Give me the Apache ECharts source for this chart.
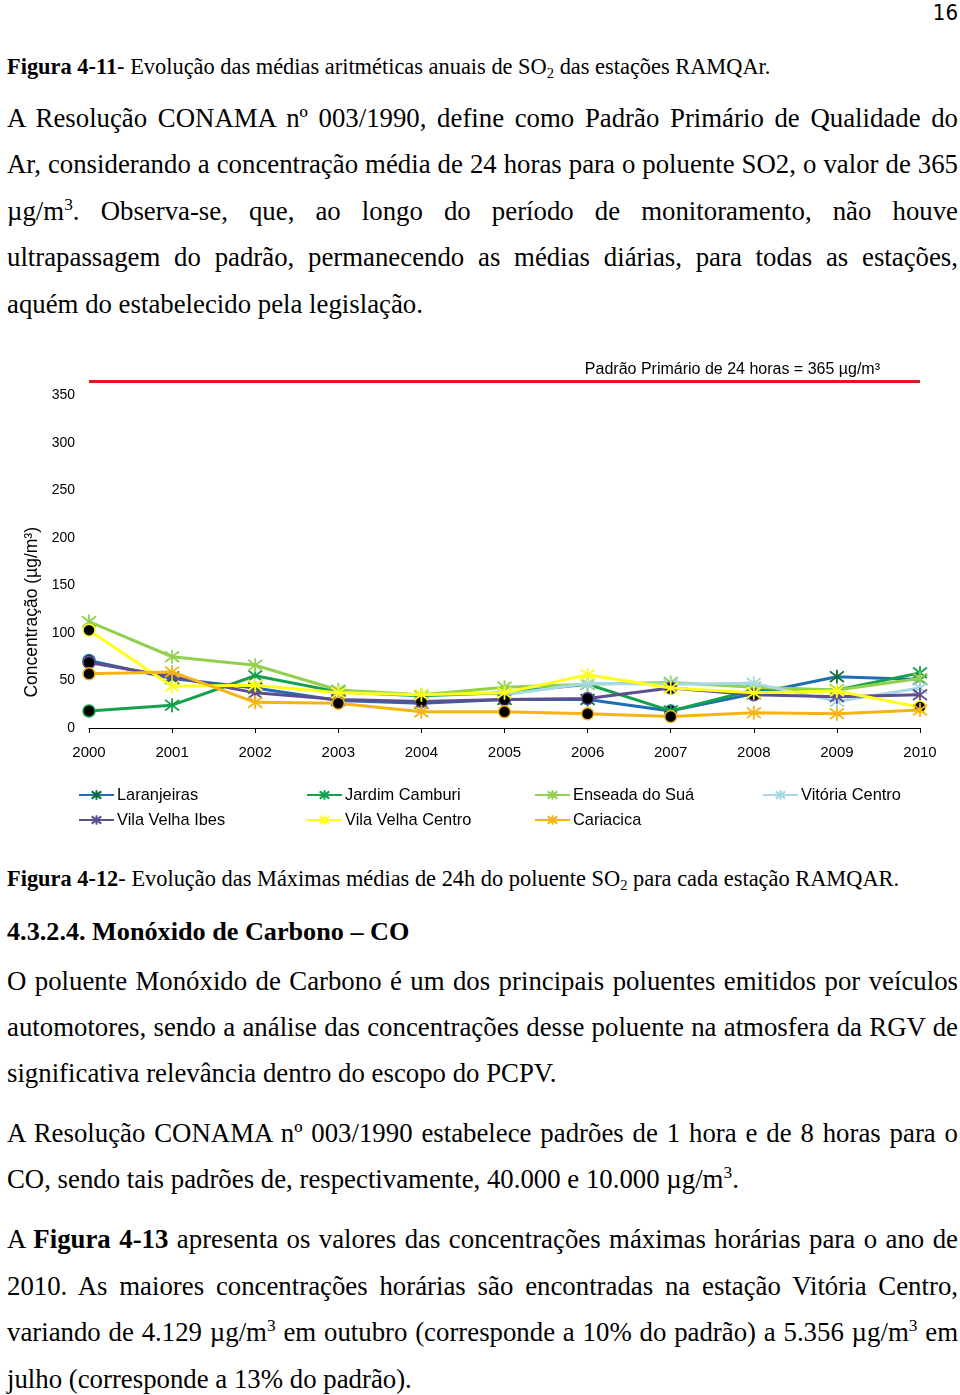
<!DOCTYPE html>
<html><head><meta charset="utf-8">
<script src="https://cdn.jsdelivr.net/npm/echarts@6/dist/echarts.min.js"></script>
<style>
html,body{margin:0;padding:0;background:#fff;}
#page{position:relative;width:960px;height:1395px;overflow:hidden;font-family:"Liberation Serif","Times New Roman",serif;color:#000;}
.ln{position:absolute;left:7px;width:951px;font-size:26.8px;line-height:26px;white-space:nowrap;}
.j{text-align:justify;text-align-last:justify;white-space:normal;}
.cap{font-size:22.4px;line-height:22px;}
.hd{font-size:26.2px;}
#pn{position:absolute;right:2px;top:0px;font-family:"Liberation Sans Narrow","DejaVu Sans Condensed","Liberation Sans",sans-serif;font-size:22px;}
#chart{position:absolute;left:0;top:340px;width:960px;height:500px;}
sub{font-size:0.65em;vertical-align:-0.25em;line-height:0;}
sup{font-size:0.65em;vertical-align:0.55em;line-height:0;}
</style></head>
<body><div id="page">
<div id="pn">16</div>
<div class="ln cap" style="top:56px"><b>Figura 4-11</b>- Evolução das médias aritméticas anuais de SO<sub>2</sub> das estações RAMQAr.</div>
<div class="ln j" style="top:105px">A Resolução CONAMA nº 003/1990, define como Padrão Primário de Qualidade do</div>
<div class="ln j" style="top:151px">Ar, considerando a concentração média de 24 horas para o poluente SO2, o valor de 365</div>
<div class="ln j" style="top:198px">µg/m<sup>3</sup>. Observa-se, que, ao longo do período de monitoramento, não houve</div>
<div class="ln j" style="top:244px">ultrapassagem do padrão, permanecendo as médias diárias, para todas as estações,</div>
<div class="ln" style="top:291px">aquém do estabelecido pela legislação.</div>
<div id="chart"></div>
<div class="ln cap" style="top:868px"><b>Figura 4-12</b>- Evolução das Máximas médias de 24h do poluente SO<sub>2</sub> para cada estação RAMQAR.</div>
<div class="ln hd" style="top:919px"><b>4.3.2.4. Monóxido de Carbono – CO</b></div>
<div class="ln j" style="top:968px">O poluente Monóxido de Carbono é um dos principais poluentes emitidos por veículos</div>
<div class="ln j" style="top:1014px">automotores, sendo a análise das concentrações desse poluente na atmosfera da RGV de</div>
<div class="ln" style="top:1060px">significativa relevância dentro do escopo do PCPV.</div>
<div class="ln j" style="top:1120px">A Resolução CONAMA nº 003/1990 estabelece padrões de 1 hora e de 8 horas para o</div>
<div class="ln" style="top:1166px">CO, sendo tais padrões de, respectivamente, 40.000 e 10.000 µg/m<sup>3</sup>.</div>
<div class="ln j" style="top:1226px">A <b>Figura 4-13</b> apresenta os valores das concentrações máximas horárias para o ano de</div>
<div class="ln j" style="top:1273px">2010. As maiores concentrações horárias são encontradas na estação Vitória Centro,</div>
<div class="ln j" style="top:1319px">variando de 4.129 µg/m<sup>3</sup> em outubro (corresponde a 10% do padrão) a 5.356 µg/m<sup>3</sup> em</div>
<div class="ln" style="top:1366px">julho (corresponde a 13% do padrão).</div>
</div>
<script>
const years = ['2000','2001','2002','2003','2004','2005','2006','2007','2008','2009','2010'];
const seriesNames = ['Laranjeiras','Jardim Camburi','Enseada do Suá','Vitória Centro','Vila Velha Ibes','Vila Velha Centro','Cariacica'];
const laranjeiras    = [71, 52, 42, 29, 26, 30, 30, 18, 36, 54, 51];
const jardimCamburi  = [18, 24, 55, 38, 34, 37, 46, 18, 40, 40, 58];
const enseadaDoSua   = [112, 75, 66, 40, 35, 43, 46, 48, 43, 40, 52];
const vitoriaCentro  = [null, null, null, null, null, 35, 47, 46, 47, 28, 42];
const vilaVelhaIbes  = [69, 54, 37, 30, 28, 30, 31, 42, 35, 33, 35];
const vilaVelhaCentro= [103, 44, 45, 37, 35, 37, 56, 42, 37, 39, 22];
const cariacica      = [57, 59, 27, 26, 17, 17, 15, 12, 16, 15, 19];
const padraoPrimario = 365;
const padraoLabel = 'Padrão Primário de 24 horas = 365 µg/m³';
const yTicks = [0, 50, 100, 150, 200, 250, 300, 350];
// year indices whose points are drawn as round black markers in the original
const roundMarkers = {
  'Laranjeiras': [0, 7],
  'Jardim Camburi': [0],
  'Vila Velha Ibes': [0, 4, 5, 6, 7, 8],
  'Vila Velha Centro': [0, 10],
  'Cariacica': [0, 3, 5, 6, 7]
};

const values = [laranjeiras, jardimCamburi, enseadaDoSua, vitoriaCentro, vilaVelhaIbes, vilaVelhaCentro, cariacica];
const lineColors = ['#1f6db4', '#14a04c', '#92d050', '#a6d8e6', '#5d4f8e', '#ffff1a', '#f5b414'];
const markColors = ['#0f6b35', '#14a04c', '#92d050', '#a6d8e6', '#5d4f8e', '#ffff1a', '#f5b414'];
const star = 'path://M5,0L5,10M1.2,1.2L8.8,8.8M1.2,8.8L8.8,1.2';
const FONT = 'Liberation Sans, Arial, sans-serif';

const chart = echarts.init(document.getElementById('chart'), null, {renderer:'canvas'});
const series = seriesNames.map((name, i) => {
  const dots = roundMarkers[name] || [];
  return {
    name: name,
    type: 'line',
    data: values[i].map((v, k) => {
      if (v === null) return '-';
      if (dots.indexOf(k) >= 0) {
        return {value: v, symbol: 'circle', symbolSize: 12,
          itemStyle: {color: '#000', borderColor: lineColors[i], borderWidth: 1.5}};
      }
      return v;
    }),
    symbol: star,
    symbolSize: 14,
    showAllSymbol: true,
    connectNulls: false,
    lineStyle: {color: lineColors[i], width: 3},
    itemStyle: {color: lineColors[i], borderColor: markColors[i], borderWidth: 1.8},
    emphasis: {disabled: true},
    animation: false,
    z: 2 + i,
    markLine: i === 0 ? {
      silent: true,
      symbol: ['none','none'],
      animation: false,
      lineStyle: {color: '#e3161d', width: 3, type: 'solid'},
      label: {show: true, position: 'insideEndTop', formatter: padraoLabel,
        color: '#000', fontFamily: FONT, fontSize: 16, distance: [40, 4]},
      data: [{yAxis: padraoPrimario}]
    } : undefined
  };
});

const legends = seriesNames.map((name, i) => ({
  data: [name],
  left: 73 + (i % 4) * 228,
  top: 442 + Math.floor(i / 4) * 25,
  itemWidth: 35,
  itemHeight: 12,
  itemGap: 5,
  selectedMode: false,
  textStyle: {color: '#000', fontFamily: FONT, fontSize: 16.4, padding: [0,0,0,-2]}
}));

chart.setOption({
  backgroundColor: '#fff',
  animation: false,
  grid: {left: 89, right: 40, top: 27, height: 361, containLabel: false},
  legend: legends,
  xAxis: {
    type: 'category', data: years, boundaryGap: false,
    axisLine: {show: true, lineStyle: {color: '#000', width: 1}},
    axisTick: {show: true, length: 5, lineStyle: {color: '#000'}},
    axisLabel: {color: '#000', fontFamily: FONT, fontSize: 15, margin: 17},
    splitLine: {show: false}
  },
  yAxis: {
    type: 'value', min: 0, max: 380, interval: 50,
    axisLine: {show: false}, axisTick: {show: false}, splitLine: {show: false},
    axisLabel: {color: '#000', fontFamily: FONT, fontSize: 14, margin: 14,
      showMaxLabel: false,
      formatter: v => (yTicks.indexOf(v) >= 0 ? String(v) : '')}
  },
  graphic: [{
    type: 'text', left: 23, top: 187, rotation: Math.PI / 2,
    style: {text: 'Concentração (µg/m³)', fill: '#000', font: '17.5px "Liberation Sans", Arial, sans-serif'}
  }],
  series: series
});
</script>
</body></html>
